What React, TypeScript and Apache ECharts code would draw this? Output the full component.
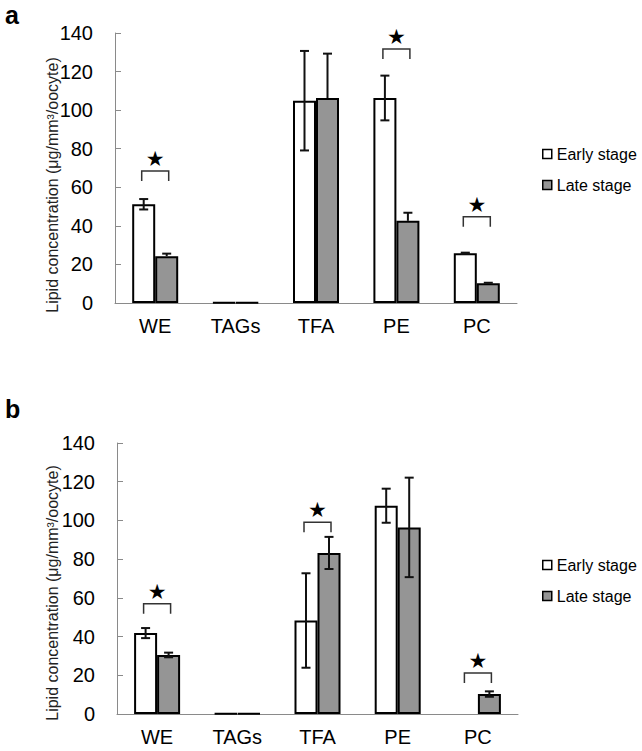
import React, { useEffect, useRef } from "react";
import * as echarts from "echarts";

const categories = ["WE", "TAGs", "TFA", "PE", "PC"];

// Panel a
const aEarly = [51.2, 0.3, 104.9, 106.3, 25.8];
const aEarlyErr = [2.7, 0, 25.8, 11.6, 0.3];
const aLate = [24.3, 0.3, 106.3, 42.6, 10.2];
const aLateErr = [1.3, 0, 23, 4.2, 0.3];
const aSigCats = [0, 3, 4];
const aSigLevels = [68.4, 131.7, 44.7];

// Panel b
const bEarly: (number | null)[] = [41.8, 0.3, 48.3, 107.6, null];
const bEarlyErr = [2.6, 0, 24.4, 8.8, 0];
const bLate = [30.5, 0.3, 83.2, 96.4, 10.3];
const bLateErr = [1.2, 0, 8.3, 25.7, 1.4];
const bSigCats = [0, 2, 4];
const bSigLevels = [57, 99, 21.2];

const yTicks = { min: 0, max: 140, interval: 20 };

const FONT = "'Liberation Sans', Arial, sans-serif";
const GRAY = "#959595";
const AXIS = "#8a8a8a";
const BAR_W = 23;

function errSeries(axisIdx: number, values: (number | null)[], errs: number[], offset: number, plusOnly: boolean) {
  const data = values
    .map((v, i) => (v == null || errs[i] <= 0 ? null : [i, v, errs[i]]))
    .filter((d) => d != null);
  return {
    type: "custom",
    name: "err" + axisIdx + offset,
    xAxisIndex: axisIdx,
    yAxisIndex: axisIdx,
    z: 10,
    silent: true,
    encode: { x: 0, y: 1 },
    data,
    renderItem: (params: any, api: any) => {
      const i = api.value(0);
      const v = api.value(1);
      const e = api.value(2);
      const top = api.coord([i, v + e]);
      const bot = api.coord([i, plusOnly ? v : v - e]);
      const x = top[0] + offset;
      const style = { stroke: "#111", lineWidth: 2 };
      const children: any[] = [
        { type: "line", shape: { x1: x, y1: top[1], x2: x, y2: bot[1] }, style },
        { type: "line", shape: { x1: x - 4.5, y1: top[1], x2: x + 4.5, y2: top[1] }, style },
      ];
      if (!plusOnly) {
        children.push({ type: "line", shape: { x1: x - 4.5, y1: bot[1], x2: x + 4.5, y2: bot[1] }, style });
      }
      return { type: "group", children };
    },
  };
}

function sigSeries(axisIdx: number, cats: number[], levels: number[]) {
  return {
    type: "custom",
    name: "sig" + axisIdx,
    xAxisIndex: axisIdx,
    yAxisIndex: axisIdx,
    z: 10,
    silent: true,
    encode: { x: 0, y: 1 },
    data: cats.map((c, k) => [c, levels[k]]),
    renderItem: (params: any, api: any) => {
      const p = api.coord([api.value(0), api.value(1)]);
      const cx = p[0];
      const y = p[1];
      return {
        type: "group",
        children: [
          {
            type: "polyline",
            shape: {
              points: [
                [cx - 13.5, y + 10],
                [cx - 13.5, y],
                [cx + 13.5, y],
                [cx + 13.5, y + 10],
              ],
            },
            style: { stroke: "#333", lineWidth: 1.5, fill: null },
          },
          {
            type: "text",
            style: {
              text: "★",
              x: cx,
              y: y - 12,
              align: "center",
              verticalAlign: "middle",
              fontSize: 21,
              fontFamily: "'DejaVu Sans', sans-serif",
              fill: "#000",
            },
          },
        ],
      };
    },
  };
}

function xAxis(gridIndex: number) {
  return {
    type: "category",
    gridIndex,
    data: categories,
    axisLine: { lineStyle: { color: AXIS, width: 1 } },
    axisTick: { inside: true, length: 5, lineStyle: { color: AXIS } },
    axisLabel: { color: "#000", fontSize: 20, fontFamily: FONT, margin: 13 },
    splitLine: { show: false },
  };
}

function yAxis(gridIndex: number) {
  return {
    type: "value",
    gridIndex,
    ...yTicks,
    axisLine: { show: true, lineStyle: { color: AXIS, width: 1 } },
    axisTick: { show: true, inside: true, length: 6, lineStyle: { color: AXIS } },
    axisLabel: { color: "#000", fontSize: 20, fontFamily: FONT, margin: 22 },
    splitLine: { show: false },
  };
}

function bars(axisIdx: number, early: (number | null)[], late: (number | null)[]) {
  const common = {
    type: "bar",
    xAxisIndex: axisIdx,
    yAxisIndex: axisIdx,
    barWidth: BAR_W,
    barGap: "0%",
    silent: true,
  };
  return [
    {
      ...common,
      name: "Early stage",
      data: early.map((v) => (v == null ? "-" : v)),
      itemStyle: { color: "#fff", borderColor: "#000", borderWidth: 2 },
    },
    {
      ...common,
      name: "Late stage",
      data: late.map((v) => (v == null ? "-" : v)),
      itemStyle: { color: GRAY, borderColor: "#000", borderWidth: 2 },
    },
  ];
}

function legend(top: number) {
  return {
    left: 542,
    top,
    padding: 0,
    orient: "vertical",
    icon: "rect",
    itemWidth: 9,
    itemHeight: 9,
    itemGap: 15,
    selectedMode: false,
    data: ["Early stage", "Late stage"],
    itemStyle: { borderWidth: 1.5, borderColor: "#000" },
    textStyle: { fontSize: 16, fontFamily: FONT, color: "#000", lineHeight: 16 },
  };
}

export default function App() {
  const ref = useRef<HTMLDivElement>(null);
  useEffect(() => {
    if (!ref.current) return;
    const chart = echarts.init(ref.current, undefined, { renderer: "svg" });
    const option: any = {
      animation: false,
      backgroundColor: "#fff",
      grid: [
        { left: 115, top: 33, width: 402, height: 270, containLabel: false },
        { left: 117, top: 443, width: 401, height: 271, containLabel: false },
      ],
      xAxis: [xAxis(0), xAxis(1)],
      yAxis: [yAxis(0), yAxis(1)],
      legend: [legend(146), legend(557)],
      graphic: [
        {
          type: "text",
          left: 5,
          top: 2,
          style: { text: "a", fontSize: 25, fontWeight: "bold", fontFamily: FONT, fill: "#000" },
        },
        {
          type: "text",
          left: 5,
          top: 396,
          style: { text: "b", fontSize: 25, fontWeight: "bold", fontFamily: FONT, fill: "#000" },
        },
        {
          type: "text",
          x: 52,
          y: 185,
          rotation: Math.PI / 2,
          style: {
            text: "Lipid concentration (μg/mm³/oocyte)",
            fontSize: 16,
            fontFamily: FONT,
            fill: "#222",
            align: "center",
            verticalAlign: "middle",
          },
        },
        {
          type: "text",
          x: 52,
          y: 593,
          rotation: Math.PI / 2,
          style: {
            text: "Lipid concentration (μg/mm³/oocyte)",
            fontSize: 16,
            fontFamily: FONT,
            fill: "#222",
            align: "center",
            verticalAlign: "middle",
          },
        },
      ],
      series: [
        ...bars(0, aEarly, aLate),
        ...bars(1, bEarly, bLate),
        errSeries(0, aEarly, aEarlyErr, -BAR_W / 2, false),
        errSeries(0, aLate, aLateErr, BAR_W / 2, true),
        errSeries(1, bEarly, bEarlyErr, -BAR_W / 2, false),
        errSeries(1, bLate, bLateErr, BAR_W / 2, false),
        sigSeries(0, aSigCats, aSigLevels),
        sigSeries(1, bSigCats, bSigLevels),
      ],
    };
    chart.setOption(option);
    return () => chart.dispose();
  }, []);
  return (
    <div
      ref={ref}
      style={{ position: "absolute", left: 0, top: 0, width: 642, height: 751, background: "#fff" }}
    />
  );
}
